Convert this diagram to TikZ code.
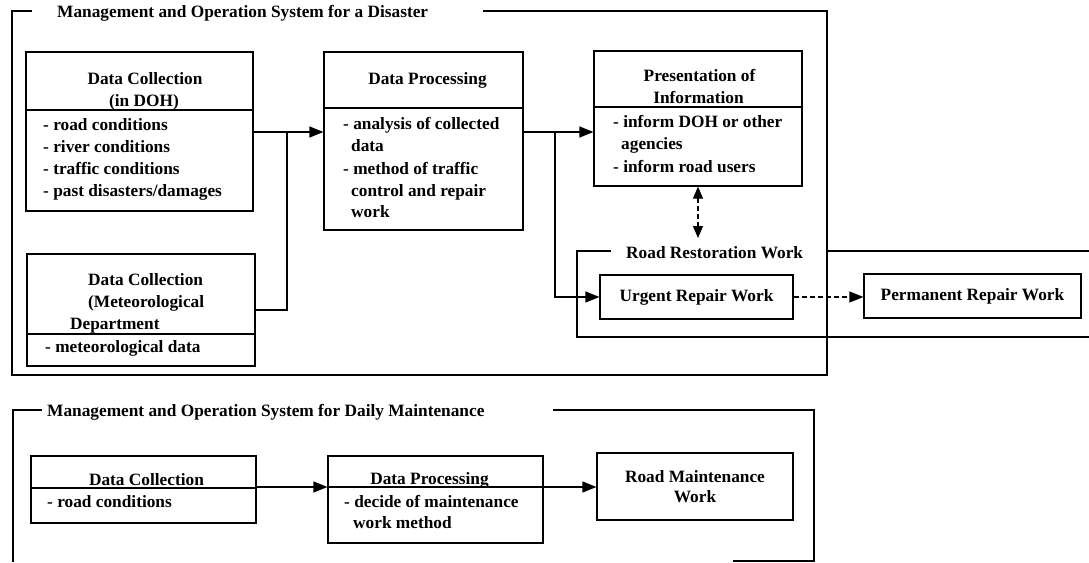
\documentclass[tikz,border=0pt]{standalone}
\usepackage{fontspec}
\setmainfont{Liberation Serif}
\usetikzlibrary{arrows.meta}
\begin{document}
\begin{tikzpicture}[x=1pt,y=-1pt,
  every node/.style={font=\fontsize{17.3}{21}\selectfont\bfseries, inner sep=0pt},
  box/.style={draw, line width=1.2pt},
  ln/.style={line width=1.2pt},
  tip/.style={Triangle[length=14pt,width=11pt]},
  arr/.style={line width=1.2pt, -{Triangle[length=14pt,width=11pt]}},
  dsh/.style={dash pattern=on 5pt off 3pt},
  lbl/.style={anchor=base west},
  ctr/.style={anchor=base}]
\useasboundingbox (0,0) rectangle (1089,562);

% ---------- frame: system for a disaster ----------
\node[lbl] (dtitle) at (57,17) {Management and Operation System for a Disaster};
\draw[ln] (32,11) -- (12,11) -- (12,375) -- (827,375) -- (827,11) -- (483,11);

% data collection (DOH)
\node[box, minimum width=227pt, minimum height=159pt] (dc1) at (139.5,131.5) {};
\draw[ln] (dc1.west |- 0,110) -- (dc1.east |- 0,110);
\node[ctr] (dc1a) at (145,84) {Data Collection};
\node[ctr] (dc1b) at (144,106) {(in DOH)};
\node[lbl] (dc1c) at (43,130) {- road conditions};
\node[lbl] (dc1d) at (43,152) {- river conditions};
\node[lbl] (dc1e) at (43,174) {- traffic conditions};
\node[lbl] (dc1f) at (43,196) {- past disasters/damages};

% data collection (meteorological)
\node[box, minimum width=228pt, minimum height=112pt] (met) at (141,310) {};
\draw[ln] (met.west |- 0,334) -- (met.east |- 0,334);
\node[lbl] (meta) at (88,285.5) {Data Collection};
\node[lbl] (metb) at (88,307.5) {(Meteorological};
\node[lbl] (metc) at (70,329.5) {Department};
\node[lbl] (metd) at (45,352.5) {- meteorological data};

% data processing
\node[box, minimum width=199pt, minimum height=178pt] (dp1) at (423.5,141) {};
\draw[ln] (dp1.west |- 0,108) -- (dp1.east |- 0,108);
\node[ctr] (dp1a) at (427.5,84) {Data Processing};
\node[lbl] (dp1b) at (343,129) {- analysis of collected};
\node[lbl] (dp1c) at (351,151) {data};
\node[lbl] (dp1d) at (343,174) {- method of traffic};
\node[lbl] (dp1e) at (351,196) {control and repair};
\node[lbl] (dp1f) at (351,217) {work};

% presentation of information
\node[box, minimum width=208pt, minimum height=135pt] (pres) at (698,118.5) {};
\draw[ln] (pres.west |- 0,107) -- (pres.east |- 0,107);
\node[ctr] (presa) at (699.5,81) {Presentation of};
\node[ctr] (presb) at (698.5,103) {Information};
\node[lbl] (presc) at (613,127) {- inform DOH or other};
\node[lbl] (presd) at (621,149) {agencies};
\node[lbl] (prese) at (613,172) {- inform road users};

% road restoration work
\node[lbl] (rrtitle) at (626,258.5) {Road Restoration Work};
\draw[ln] (611,251) -- (577,251) -- (577,337) -- (1089,337);
\draw[ln] (827,251) -- (1089,251);
\node[box, minimum width=193pt, minimum height=44pt] (urgent) at (696.5,297) {Urgent Repair Work};
\node[box, minimum width=217pt, minimum height=44pt] (perm) at (972.5,296) {Permanent Repair Work};

% connectors
\coordinate (j1) at (287,132);
\coordinate (j2) at (555,132);
\draw[arr] (dc1.east |- j1) -- (dp1.west |- j1);
\draw[ln] (met.east |- 0,310) -| (j1);
\draw[arr] (dp1.east |- j2) -- (pres.west |- j2);
\draw[arr] (j2) |- (urgent.west);
\draw[line width=1.2pt, dsh, {Triangle[length=12pt,width=10pt]}-{Triangle[length=12pt,width=10pt]}]
  (pres.south) -- (pres.south |- 0,238);
\draw[line width=1.2pt, dsh, -{Triangle[length=14pt,width=11pt]}] (urgent.east) -- (perm.west |- urgent.east);

% ---------- frame: system for daily maintenance ----------
\node[lbl] (mtitle) at (47,416) {Management and Operation System for Daily Maintenance};
\draw[ln] (42,410) -- (13,410) -- (13,562);
\draw[ln] (553,410) -- (814,410) -- (814,561) -- (733,561);

\node[box, minimum width=225pt, minimum height=67pt] (dc2) at (143.5,489.5) {};
\draw[ln] (dc2.west |- 0,488) -- (dc2.east |- 0,488);
\node[ctr] (dc2a) at (146.5,485) {Data Collection};
\node[lbl] (dc2b) at (47,507.5) {- road conditions};

\node[box, minimum width=215pt, minimum height=87pt] (dp2) at (435.5,499.5) {};
\draw[ln] (dp2.west |- 0,487) -- (dp2.east |- 0,487);
\node[ctr] (dp2a) at (429.5,484) {Data Processing};
\node[lbl] (dp2b) at (344,507.5) {- decide of maintenance};
\node[lbl] (dp2c) at (353,528.5) {work method};

\node[box, minimum width=196pt, minimum height=67pt, align=center] (rm) at (695,486.5) {Road Maintenance\\[-1pt]Work};

\draw[arr] (dc2.east |- 0,487) -- (dp2.west |- 0,487);
\draw[arr] (dp2.east |- 0,487) -- (rm.west |- 0,487);
\end{tikzpicture}
\end{document}
